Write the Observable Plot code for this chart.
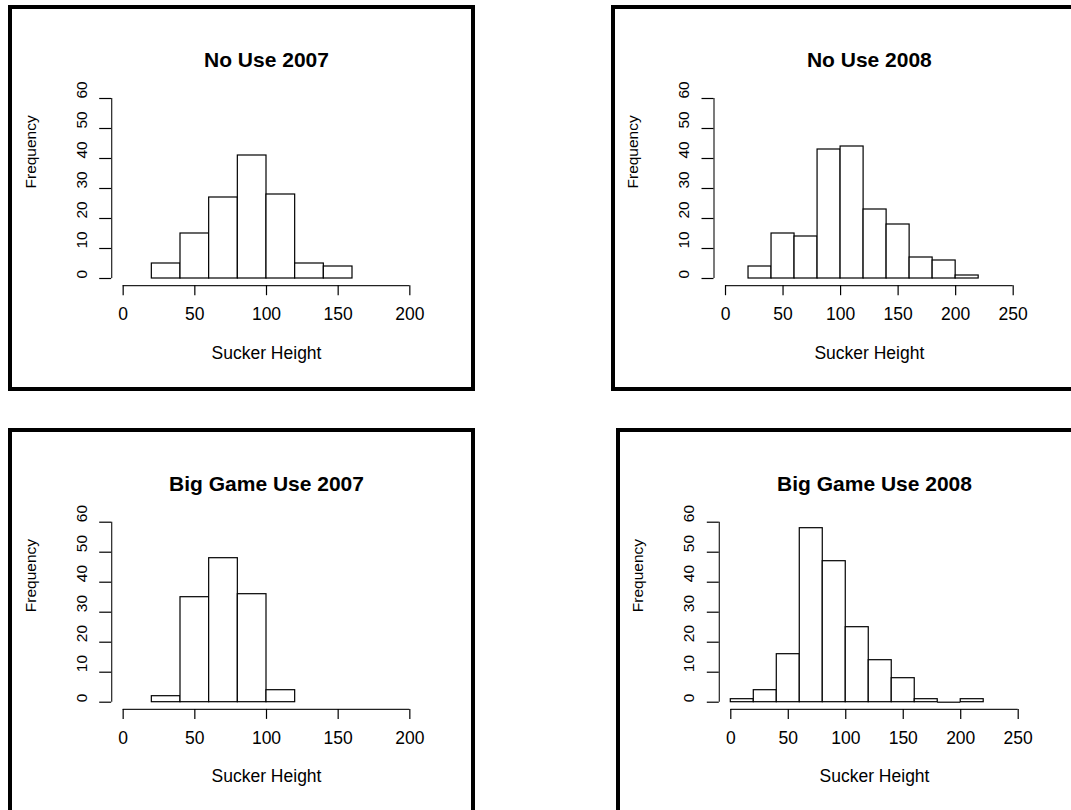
<!DOCTYPE html>
<html><head><meta charset="utf-8">
<script src="https://cdn.jsdelivr.net/npm/d3@7"></script>
<script src="https://cdn.jsdelivr.net/npm/@observablehq/plot@0.6"></script>
<style>
html,body{margin:0;padding:0;background:#fff;overflow:hidden}
#page{position:relative;width:1071px;height:810px;overflow:hidden;font-family:"Liberation Sans",Arial,sans-serif;background:#fff}
.quad{position:absolute}
.border{position:absolute;border:4px solid #000;box-sizing:border-box;pointer-events:none}
</style></head><body><div id="page"></div>
<script>
// ---- data ----
const titles = ["No Use 2007", "No Use 2008", "Big Game Use 2007", "Big Game Use 2008"];
const xLabel = "Sucker Height";
const yLabel = "Frequency";

const noUse2007Bins   = [20, 40, 60, 80, 100, 120, 140];
const noUse2007Counts = [5, 15, 27, 41, 28, 5, 4];

const noUse2008Bins   = [20, 40, 60, 80, 100, 120, 140, 160, 180, 200];
const noUse2008Counts = [4, 15, 14, 43, 44, 23, 18, 7, 6, 1];

const bigGame2007Bins   = [20, 40, 60, 80, 100];
const bigGame2007Counts = [2, 35, 48, 36, 4];

const bigGame2008Bins   = [0, 20, 40, 60, 80, 100, 120, 140, 160, 180, 200];
const bigGame2008Counts = [1, 4, 16, 58, 47, 25, 14, 8, 1, 0, 1];

const binWidth = 20;
const xTicks200 = [0, 50, 100, 150, 200];
const xTicks250 = [0, 50, 100, 150, 200, 250];
const yTicks = [0, 10, 20, 30, 40, 50, 60];
const xlim200 = [0, 200];
const xlim250 = [0, 250];
const ylim = [0, 60];

// ---- layout ----
const layouts = [
  {left: 0,   top: 0,   w: 540, h: 410, ml: 111.2, mr: 119.2, mt: 90.8,  mb: 124.8, border: {l: 8,   t: 5,   w: 467, h: 386}},
  {left: 540, top: 0,   w: 531, h: 410, ml: 173.5, mr: 46.8,  mt: 90.8,  mb: 124.8, border: {l: 611, t: 5,   w: 520, h: 386}},
  {left: 0,   top: 410, w: 540, h: 400, ml: 111.2, mr: 119.2, mt: 104.5, mb: 101.1, border: {l: 8,   t: 428, w: 467, h: 420}},
  {left: 540, top: 410, w: 531, h: 400, ml: 178.8, mr: 41.8,  mt: 104.5, mb: 101.1, border: {l: 616, t: 428, w: 520, h: 420}}
];

const panels = [
  {title: titles[0], bins: noUse2007Bins,   counts: noUse2007Counts,   xlim: xlim200, xTicks: xTicks200},
  {title: titles[1], bins: noUse2008Bins,   counts: noUse2008Counts,   xlim: xlim250, xTicks: xTicks250},
  {title: titles[2], bins: bigGame2007Bins, counts: bigGame2007Counts, xlim: xlim200, xTicks: xTicks200},
  {title: titles[3], bins: bigGame2008Bins, counts: bigGame2008Counts, xlim: xlim250, xTicks: xTicks250}
];

const page = document.getElementById("page");
const font = '"Liberation Sans", Arial, Helvetica, sans-serif';

panels.forEach((p, i) => {
  const L = layouts[i];
  const rows = p.bins.map((b, j) => ({x0: b, x1: b + binWidth, n: p.counts[j]}));
  const px = 0.04 * (p.xlim[1] - p.xlim[0]);
  const py = 0.04 * (ylim[1] - ylim[0]);
  const usrX = [p.xlim[0] - px, p.xlim[1] + px];
  const usrY = [ylim[0] - py, ylim[1] + py];

  const svg = Plot.plot({
    width: L.w, height: L.h,
    marginLeft: L.ml, marginRight: L.mr, marginTop: L.mt, marginBottom: L.mb,
    style: {fontFamily: font, background: "transparent", color: "#000", overflow: "visible"},
    x: {domain: usrX},
    y: {domain: usrY},
    marks: [
      Plot.rect(rows, {x1: "x0", x2: "x1", y1: 0, y2: "n", fill: "white", stroke: "black", strokeWidth: 1.2}),
      Plot.ruleY(rows.filter(d => d.n === 0), {x1: "x0", x2: "x1", y: 0, stroke: "black", strokeWidth: 1.2}),
      // x axis
      Plot.ruleY([usrY[0]], {x1: p.xTicks[0], x2: p.xTicks[p.xTicks.length - 1], stroke: "#222", strokeWidth: 1.2}),
      Plot.axisX({ticks: p.xTicks, tickSize: 10, tickFormat: () => "", label: null, strokeWidth: 1.2}),
      Plot.text(p.xTicks, {x: d => d, text: d => String(d), frameAnchor: "bottom", dy: 34.5, fontSize: 17.5}),
      // y axis
      Plot.ruleX([usrX[0]], {y1: yTicks[0], y2: yTicks[yTicks.length - 1], stroke: "#222", strokeWidth: 1.2}),
      Plot.axisY({ticks: yTicks, tickSize: 12, tickFormat: () => "", label: null, strokeWidth: 1.2}),
      Plot.text(yTicks, {y: d => d, text: d => String(d), frameAnchor: "left", dx: -30, rotate: -90, fontSize: 15.5}),
      // titles
      Plot.text([p.title], {text: d => d, frameAnchor: "top", dy: -39, fontWeight: "bold", fontSize: 21}),
      Plot.text([xLabel], {text: d => d, frameAnchor: "bottom", dy: 73, fontSize: 17.5}),
      Plot.text([yLabel], {text: d => d, frameAnchor: "left", dx: -81, rotate: -90, fontSize: 15.5})
    ]
  });
  const q = document.createElement("div");
  q.className = "quad";
  q.style.left = L.left + "px"; q.style.top = L.top + "px";
  q.style.width = L.w + "px"; q.style.height = L.h + "px";
  q.appendChild(svg);
  page.appendChild(q);

  const b = document.createElement("div");
  b.className = "border";
  b.style.left = L.border.l + "px"; b.style.top = L.border.t + "px";
  b.style.width = L.border.w + "px"; b.style.height = L.border.h + "px";
  page.appendChild(b);
});
</script></body></html>
